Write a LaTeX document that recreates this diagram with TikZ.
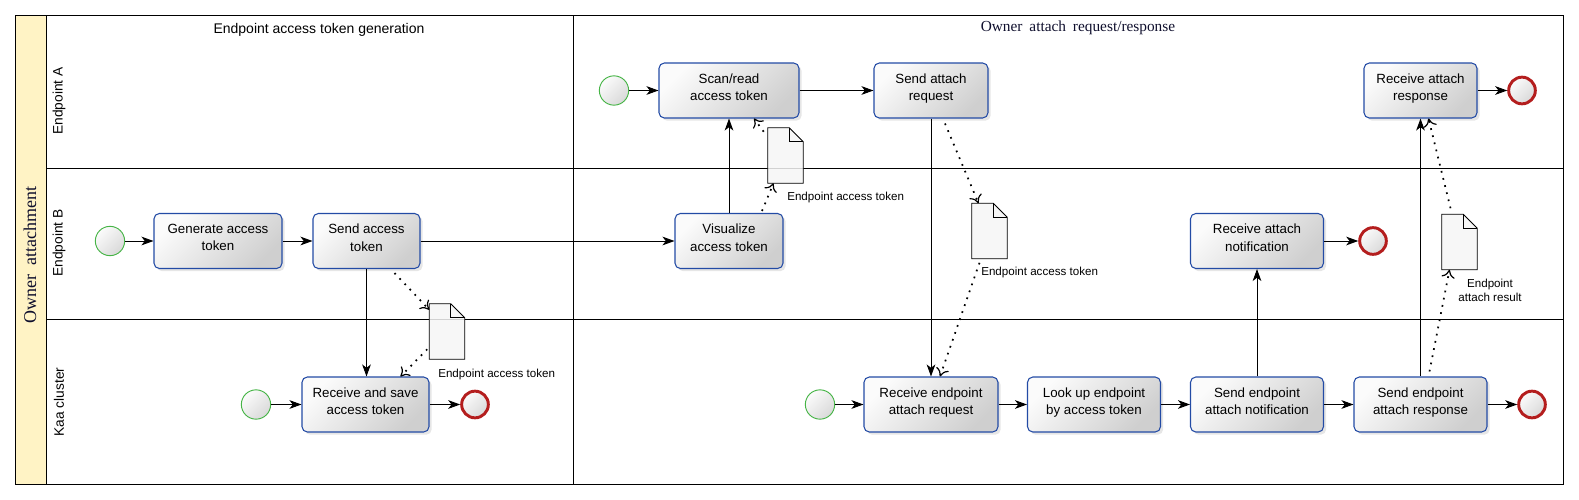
\documentclass[tikz,border=0pt]{standalone}
\usepackage{fontspec}
\setsansfont{Liberation Sans}
\newfontfamily\poolfont{Liberation Serif}
\newfontfamily\phasefont[WordSpace=1.8]{Liberation Serif}
\usetikzlibrary{arrows.meta,shadows}

\definecolor{taskblue}{RGB}{35,75,165}
\definecolor{startgreen}{RGB}{70,180,70}
\definecolor{endred}{RGB}{180,30,30}
\definecolor{poolyellow}{RGB}{255,243,197}
\definecolor{titleink}{RGB}{15,15,45}

\tikzset{
  task/.style={draw=taskblue, line width=0.8pt, rounded corners=4pt,
    top color=gray!3, bottom color=gray!38, shading angle=45,
    drop shadow={shadow xshift=2pt, shadow yshift=-2pt, opacity=0.2},
    minimum height=41.25pt, inner sep=2pt, align=center,
    font=\sffamily\fontsize{10}{13}\selectfont,
    execute at end node={\rule[-5pt]{0pt}{5pt}}},
  startev/.style={circle, draw=startgreen, line width=0.7pt, minimum size=22pt,
    inner sep=0pt, top color=gray!3, bottom color=gray!30, shading angle=45},
  endev/.style={circle, draw=endred, line width=2.2pt, minimum size=20pt,
    inner sep=0pt, top color=gray!3, bottom color=gray!30, shading angle=45},
  docbox/.style={minimum width=26.25pt, minimum height=41.25pt, inner sep=0pt},
  docline/.style={draw=black, line width=0.7pt, fill=gray!7, fill opacity=0.85},
  doclabel/.style={font=\sffamily\fontsize{8.7}{10.5}\selectfont, inner sep=0pt, align=center},
  lanelabel/.style={font=\sffamily\fontsize{10.3}{12}\selectfont, inner sep=0pt},
  flow/.style={-{Stealth[length=9pt,width=6.5pt,inset=2.5pt]}, line width=0.7pt},
  assoc/.style={-{Computer Modern Rightarrow[length=6pt,width=10pt,line width=0.9pt]},
    line width=1.3pt, dash pattern=on 1.3pt off 4.2pt}
}

\begin{document}
\begin{tikzpicture}[x=0.75pt, y=-0.75pt]
	\useasboundingbox (0,0) rectangle (1579,500);

	% pool and lanes
	\fill[poolyellow] (15,15) rectangle (46,484);
	\draw[line width=0.75pt] (15,15) rectangle (1563,484);
	\draw[line width=0.75pt] (46,15) -- (46,484);
	\draw[line width=0.75pt] (46,168) -- (1563,168);
	\draw[line width=0.75pt] (46,319) -- (1563,319);
	\draw[line width=0.75pt] (573,15) -- (573,484);

	\node[rotate=90, text=titleink, font=\poolfont\fontsize{13.5}{15}\selectfont] (pool) at (30,255) {Owner attachment};
	\node[lanelabel, rotate=90] (laneA) at (59,101) {Endpoint A};
	\node[lanelabel, rotate=90] (laneB) at (59,243) {Endpoint B};
	\node[lanelabel, rotate=90] (laneC) at (59,402) {Kaa cluster};

	\node[font=\sffamily\fontsize{10.5}{12}\selectfont] (phase1) at (319,30) {Endpoint access token generation};
	\node[text=titleink, font=\phasefont\fontsize{11.5}{13}\selectfont] (phase2) at (1078,28) {Owner attach request/response};

	% Endpoint A
	\node[startev] (sA) at (614,90.5) {};
	\node[task, minimum width=105pt] (scan) at (729,90.5) {Scan/read\\access token};
	\node[task, minimum width=85.5pt] (sendreq) at (931,90.5) {Send attach\\request};
	\node[task, minimum width=84.75pt] (recvresp) at (1420.5,90.5) {Receive attach\\response};
	\node[endev] (eA) at (1522,90.5) {};

	% Endpoint B
	\node[startev] (sB) at (110,241) {};
	\node[task, minimum width=96pt] (gen) at (218,241) {Generate access\\token};
	\node[task, minimum width=80.25pt] (sendtok) at (366.5,241) {Send access\\token};
	\node[task, minimum width=81pt] (visual) at (729,241) {Visualize\\access token};
	\node[task, minimum width=99.75pt] (recvnotif) at (1257,241) {Receive attach\\notification};
	\node[endev] (eB) at (1373,241) {};

	% Kaa cluster
	\node[startev] (sC1) at (256,404.5) {};
	\node[task, minimum width=95.25pt] (recvsave) at (365.5,404.5) {Receive and save\\access token};
	\node[endev] (eC1) at (475,404.5) {};
	\node[startev] (sC2) at (820,404.5) {};
	\node[task, minimum width=100.5pt] (recvreq) at (931,404.5) {Receive endpoint\\attach request};
	\node[task, minimum width=99.75pt] (lookup) at (1094,404.5) {Look up endpoint\\by access token};
	\node[task, minimum width=99.75pt] (sendnotif) at (1257,404.5) {Send endpoint\\attach notification};
	\node[task, minimum width=99.75pt] (sendresp) at (1420.5,404.5) {Send endpoint\\attach response};
	\node[endev] (eC2) at (1532,404.5) {};

	% data objects
	\node[docbox] (doc1) at (785.5,155.5) {};
	\node[docbox] (doc2) at (989.5,231) {};
	\node[docbox] (doc3) at (1459.5,242) {};
	\node[docbox] (doc4) at (447,331.5) {};
	\foreach \d in {doc1,doc2,doc3,doc4}{
		\path[docline] (\d.south west) -- (\d.north west) -- ([xshift=-10.5pt]\d.north east)
			-- ([yshift=-10.5pt]\d.north east) -- (\d.south east) -- cycle;
		\draw[line width=0.7pt] ([xshift=-10.5pt]\d.north east) -- ([xshift=-10.5pt,yshift=-10.5pt]\d.north east)
			-- ([yshift=-10.5pt]\d.north east);
	}
	\node[doclabel, anchor=west] (lbl1) at (787,197) {Endpoint access token};
	\node[doclabel, anchor=west] (lbl2) at (981,272) {Endpoint access token};
	\node[doclabel] (lbl3) at (1490,290) {Endpoint\\attach result};
	\node[doclabel, anchor=west] (lbl4) at (438,374) {Endpoint access token};

	% sequence flows
	\draw[flow] (sA) -- (scan);
	\draw[flow] (scan) -- (sendreq);
	\draw[flow] (recvresp) -- (eA);
	\draw[flow] (sB) -- (gen);
	\draw[flow] (gen) -- (sendtok);
	\draw[flow] (sendtok) -- (visual);
	\draw[flow] (visual) -- (scan);
	\draw[flow] (sendtok.south) -- (sendtok.south |- recvsave.north);
	\draw[flow] (recvnotif) -- (eB);
	\draw[flow] (sendreq) -- (recvreq);
	\draw[flow] (sendnotif) -- (recvnotif);
	\draw[flow] (sendresp) -- (sendresp.north |- recvresp.south);
	\draw[flow] (sC1) -- (recvsave);
	\draw[flow] (recvsave) -- (eC1);
	\draw[flow] (sC2) -- (recvreq);
	\draw[flow] (recvreq) -- (lookup);
	\draw[flow] (lookup) -- (sendnotif);
	\draw[flow] (sendnotif) -- (sendresp);
	\draw[flow] (sendresp) -- (eC2);

	% data associations
	\draw[assoc] ([shift={(28,4)}]sendtok.south) -- ([shift={(0,6)}]doc4.north west);
	\draw[assoc] ([shift={(-2,-10)}]doc4.south west) -- ([shift={(35,0)}]recvsave.north);
	\draw[assoc] ([shift={(33,-2)}]visual.north) -- ([shift={(-12,0)}]doc1.south);
	\draw[assoc] ([shift={(-4,4)}]doc1.north west) -- ([shift={(25,0)}]scan.south);
	\draw[assoc] ([shift={(14,5)}]sendreq.south) -- ([shift={(-11,0)}]doc2.north);
	\draw[assoc] ([shift={(-10,4)}]doc2.south) -- ([shift={(9,0)}]recvreq.north);
	\draw[assoc] ([shift={(9,-5)}]sendresp.north) -- ([shift={(-10,0)}]doc3.south);
	\draw[assoc] ([shift={(-9,-6)}]doc3.north) -- ([shift={(8,0)}]recvresp.south);
\end{tikzpicture}
\end{document}
